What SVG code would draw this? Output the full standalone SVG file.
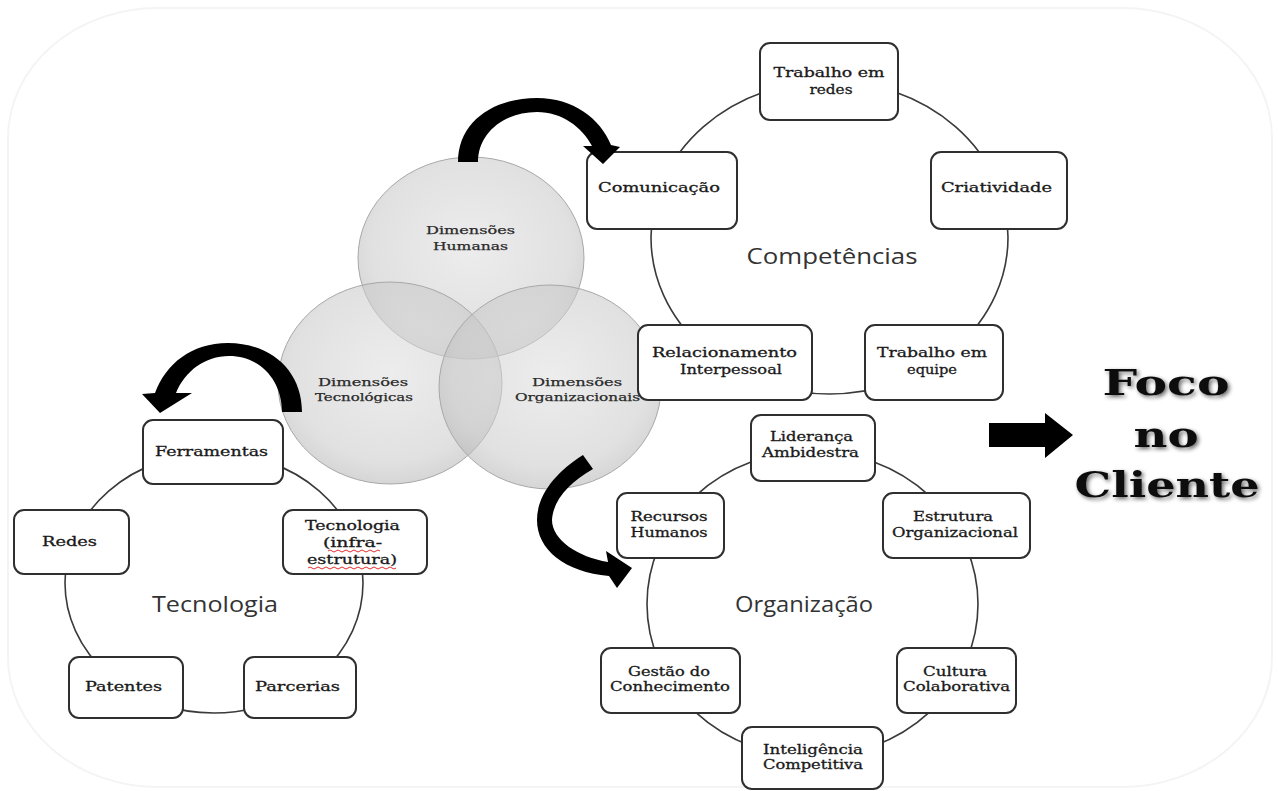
<svg xmlns="http://www.w3.org/2000/svg" width="1278" height="791" viewBox="0 0 1278 791">
<defs>
<radialGradient id="venn" cx="50%" cy="45%" r="55%">
<stop offset="0" stop-color="#dedede"/>
<stop offset="0.8" stop-color="#c8c8c8"/>
<stop offset="1" stop-color="#b4b4b4"/>
</radialGradient>
<filter id="shadow" x="-20%" y="-20%" width="140%" height="140%">
<feGaussianBlur in="SourceAlpha" stdDeviation="2.2"/>
<feOffset dx="1.5" dy="2" result="b"/>
<feComponentTransfer><feFuncA type="linear" slope="0.6"/></feComponentTransfer>
<feMerge><feMergeNode/><feMergeNode in="SourceGraphic"/></feMerge>
</filter>
<style>
.box{fill:#fff;stroke:#2f2f2f;stroke-width:2}
.cyc{fill:none;stroke:#3a3a3a;stroke-width:1.6}
.venn{fill:url(#venn);fill-opacity:0.55;stroke:#a8a8a8;stroke-width:1}
.t{font-family:"DejaVu Serif","Liberation Serif",serif;font-size:12.5px;fill:#1a1a1a;stroke:#1a1a1a;stroke-width:0.3;text-anchor:middle}
.vt{font-family:"DejaVu Serif","Liberation Serif",serif;font-size:11px;fill:#2a2a2a;stroke:#2a2a2a;stroke-width:0.25;text-anchor:middle}
.big{font-family:"Open Sans","Noto Sans",sans-serif;font-size:21px;fill:#333;text-anchor:middle}
.foco{font-family:"DejaVu Serif","Liberation Serif",serif;font-weight:bold;font-size:36px;fill:#111;text-anchor:middle}
.arr{fill:#000}
.sq{fill:none;stroke:#e03030;stroke-width:1}
</style>
</defs>
<rect width="1278" height="791" fill="#fff"/>
<rect x="8" y="8" width="1264" height="779" rx="150" ry="130" fill="none" stroke="#f4f4f4" stroke-width="2"/>

<g id="cycles">
<ellipse class="cyc" cx="829.5" cy="237.5" rx="178.5" ry="156.5"/>
<ellipse class="cyc" cx="214" cy="583" rx="149" ry="130"/>
<ellipse class="cyc" cx="812.5" cy="604" rx="165.5" ry="153"/>
</g>

<g id="venn">
<ellipse id="dim-humanas" class="venn" cx="471" cy="258" rx="113" ry="101"/>
<ellipse id="dim-tecnologicas" class="venn" cx="390" cy="383" rx="112" ry="101"/>
<ellipse id="dim-organizacionais" class="venn" cx="550" cy="387" rx="111" ry="102"/>
</g>

<g id="competencias">
<g id="n-redes-trab"><rect class="box" x="760" y="43" width="138" height="77" rx="10"/><text class="t" x="829" y="77" textLength="111" lengthAdjust="spacingAndGlyphs">Trabalho em</text><text class="t" x="831" y="94" textLength="43" lengthAdjust="spacingAndGlyphs">redes</text></g>
<g id="n-comunicacao"><rect class="box" x="587" y="152" width="150" height="77" rx="10"/><text class="t" x="659" y="192" textLength="122" lengthAdjust="spacingAndGlyphs">Comunicação</text></g>
<g id="n-criatividade"><rect class="box" x="931" y="152" width="136" height="77" rx="10"/><text class="t" x="996.5" y="192" textLength="111" lengthAdjust="spacingAndGlyphs">Criatividade</text></g>
<g id="n-relacionamento"><rect class="box" x="638" y="325" width="174" height="75" rx="10"/><text class="t" x="724.5" y="357" textLength="145" lengthAdjust="spacingAndGlyphs">Relacionamento</text><text class="t" x="731" y="374" textLength="102" lengthAdjust="spacingAndGlyphs">Interpessoal</text></g>
<g id="n-equipe"><rect class="box" x="865" y="325" width="138" height="75" rx="10"/><text class="t" x="932" y="357" textLength="110" lengthAdjust="spacingAndGlyphs">Trabalho em</text><text class="t" x="932" y="374" textLength="50" lengthAdjust="spacingAndGlyphs">equipe</text></g>
<text class="big" x="832" y="264" textLength="171" lengthAdjust="spacingAndGlyphs">Competências</text>
</g>

<g id="tecnologia">
<g id="n-ferramentas"><rect class="box" x="143" y="420" width="140" height="64" rx="10"/><text class="t" x="211.5" y="456" textLength="113" lengthAdjust="spacingAndGlyphs">Ferramentas</text></g>
<g id="n-redes"><rect class="box" x="14" y="510" width="115" height="64" rx="10"/><text class="t" x="69.5" y="546" textLength="55" lengthAdjust="spacingAndGlyphs">Redes</text></g>
<g id="n-infra"><rect class="box" x="283" y="510" width="144" height="64" rx="10"/><text class="t" x="352.5" y="530" textLength="95" lengthAdjust="spacingAndGlyphs">Tecnologia</text><text class="t" x="352.5" y="547" textLength="59" lengthAdjust="spacingAndGlyphs">(infra-</text><text class="t" x="352" y="564" textLength="90" lengthAdjust="spacingAndGlyphs">estrutura)</text>
<path class="sq" d="M328,551 q2,-2 4,0 t4,0 t4,0 t4,0 t4,0 t4,0 t4,0 t4,0 t4,0 t4,0 t4,0 t4,0 t4,0"/>
<path class="sq" d="M308,568 q2,-2 4,0 t4,0 t4,0 t4,0 t4,0 t4,0 t4,0 t4,0 t4,0 t4,0 t4,0 t4,0 t4,0 t4,0 t4,0 t4,0 t4,0 t4,0 t4,0 t4,0 t4,0 t4,0"/></g>
<g id="n-patentes"><rect class="box" x="69" y="657" width="114" height="61" rx="10"/><text class="t" x="123.5" y="691" textLength="77" lengthAdjust="spacingAndGlyphs">Patentes</text></g>
<g id="n-parcerias"><rect class="box" x="244" y="657" width="112" height="61" rx="10"/><text class="t" x="297.5" y="691" textLength="85" lengthAdjust="spacingAndGlyphs">Parcerias</text></g>
<text class="big" x="215" y="612" textLength="126" lengthAdjust="spacingAndGlyphs">Tecnologia</text>
</g>

<g id="organizacao">
<g id="n-lideranca"><rect class="box" x="751" y="415" width="124" height="66" rx="10"/><text class="t" x="811.5" y="441" textLength="83" lengthAdjust="spacingAndGlyphs">Liderança</text><text class="t" x="810.5" y="457" textLength="97" lengthAdjust="spacingAndGlyphs">Ambidestra</text></g>
<g id="n-recursos"><rect class="box" x="617" y="493" width="107" height="65" rx="10"/><text class="t" x="669" y="521" textLength="77" lengthAdjust="spacingAndGlyphs">Recursos</text><text class="t" x="669" y="537" textLength="77" lengthAdjust="spacingAndGlyphs">Humanos</text></g>
<g id="n-estrutura"><rect class="box" x="883" y="493" width="147" height="65" rx="10"/><text class="t" x="953" y="521" textLength="80" lengthAdjust="spacingAndGlyphs">Estrutura</text><text class="t" x="955" y="537" textLength="126" lengthAdjust="spacingAndGlyphs">Organizacional</text></g>
<g id="n-gestao"><rect class="box" x="601" y="648" width="139" height="65" rx="10"/><text class="t" x="669" y="676" textLength="82" lengthAdjust="spacingAndGlyphs">Gestão do</text><text class="t" x="670" y="691" textLength="120" lengthAdjust="spacingAndGlyphs">Conhecimento</text></g>
<g id="n-cultura"><rect class="box" x="897" y="648" width="119" height="65" rx="10"/><text class="t" x="955" y="676" textLength="64" lengthAdjust="spacingAndGlyphs">Cultura</text><text class="t" x="956.5" y="691" textLength="107" lengthAdjust="spacingAndGlyphs">Colaborativa</text></g>
<g id="n-inteligencia"><rect class="box" x="742" y="727" width="141" height="62" rx="10"/><text class="t" x="813" y="754" textLength="100" lengthAdjust="spacingAndGlyphs">Inteligência</text><text class="t" x="813" y="769" textLength="100" lengthAdjust="spacingAndGlyphs">Competitiva</text></g>
<text class="big" x="804" y="612" textLength="138" lengthAdjust="spacingAndGlyphs">Organização</text>
</g>

<g id="venn-labels">
<text class="vt" x="470.5" y="234" textLength="89" lengthAdjust="spacingAndGlyphs">Dimensões</text>
<text class="vt" x="470.5" y="250" textLength="75" lengthAdjust="spacingAndGlyphs">Humanas</text>
<text class="vt" x="363" y="386" textLength="90" lengthAdjust="spacingAndGlyphs">Dimensões</text>
<text class="vt" x="364" y="401" textLength="98" lengthAdjust="spacingAndGlyphs">Tecnológicas</text>
<text class="vt" x="577" y="386" textLength="90" lengthAdjust="spacingAndGlyphs">Dimensões</text>
<text class="vt" x="577.5" y="401" textLength="125" lengthAdjust="spacingAndGlyphs">Organizacionais</text>
</g>

<g id="connectors">
<path class="arr" d="M458,162 C458,122 493,98 537,98 C573,98 600,118 611,145 L620,147 L603,164 L583,146 L592,146 C582,127 562,112 537,112 C505,112 478,132 478,162 Z"/>
<path class="arr" d="M302,412 C302,370 270,343 228,343 C191,343 166,364 155,393 L142,394 L160,413 L192,393 L176,393 C185,371 205,356 229,356 C260,356 282,380 282,412 Z"/>
<path class="arr" d="M583,455 L593,469 C570,482 553,500 552,520 C552,540 578,557 608,562 L606,551 L632,568 L617,588 L609,576 C565,572 537,550 537,520 C537,495 556,472 583,455 Z"/>
<path class="arr" d="M989,423 L1045,423 L1045,413 L1073,435 L1045,458 L1045,447 L989,447 Z"/>
</g>

<g id="foco" filter="url(#shadow)">
<text class="foco" x="1166" y="395" textLength="127" lengthAdjust="spacingAndGlyphs">Foco</text>
<text class="foco" x="1166" y="447" textLength="65" lengthAdjust="spacingAndGlyphs">no</text>
<text class="foco" x="1167" y="497" textLength="185" lengthAdjust="spacingAndGlyphs">Cliente</text>
</g>
</svg>
